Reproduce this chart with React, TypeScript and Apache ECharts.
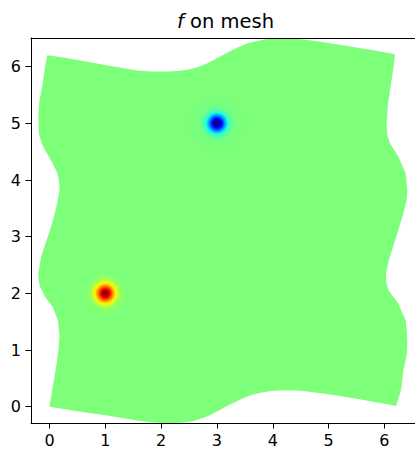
import React, { useEffect, useRef } from "react";
import * as echarts from "echarts";

// Axis extents (equal aspect) and tick positions
const xRange = [-0.331, 6.548];
const yRange = [-0.288, 6.506];
const xTicks = [0, 1, 2, 3, 4, 5, 6];
const yTicks = [0, 1, 2, 3, 4, 5, 6];

// Outline of the deformed mesh, traced edge by edge (counter-clockwise)
const bottomEdge: number[][] = [
  [0, 0], [0.5, -0.08], [1.0, -0.15], [1.3, -0.2], [1.6, -0.25], [1.85, -0.28], [2.1, -0.29],
  [2.35, -0.285], [2.55, -0.26], [2.75, -0.2], [2.9, -0.14], [3.05, -0.06], [3.2, 0.02],
  [3.4, 0.12], [3.6, 0.2], [3.8, 0.25], [4.0, 0.28], [4.2, 0.29], [4.5, 0.28], [5.0, 0.22],
  [5.5, 0.14], [6.0, 0.05], [6.21, 0.01],
];
const rightEdge: number[][] = [
  [6.21, 0.01], [6.3, 0.3], [6.34, 0.65], [6.4, 0.9], [6.41, 1.12], [6.4, 1.35],
  [6.38, 1.53], [6.3, 1.7], [6.25, 1.82], [6.15, 1.95], [6.07, 2.06], [6.03, 2.2],
  [6.03, 2.35], [6.07, 2.55], [6.12, 2.71], [6.18, 2.9], [6.25, 3.12], [6.34, 3.41],
  [6.4, 3.65], [6.41, 3.82], [6.38, 4.12], [6.3, 4.3], [6.25, 4.41], [6.1, 4.65],
  [6.05, 4.8], [6.04, 5.0], [6.06, 5.3], [6.1, 5.59], [6.15, 5.9], [6.19, 6.22],
];
const topEdge: number[][] = [
  [6.19, 6.22], [5.8, 6.29], [5.25, 6.38], [4.8, 6.45], [4.48, 6.49], [4.1, 6.5],
  [3.89, 6.49], [3.7, 6.45], [3.54, 6.41], [3.35, 6.33], [3.19, 6.25], [3.0, 6.15],
  [2.83, 6.06], [2.65, 5.99], [2.5, 5.95], [2.3, 5.925], [2.1, 5.915], [1.85, 5.915],
  [1.6, 5.93], [1.3, 5.975], [1.0, 6.03], [0.6, 6.1], [0.25, 6.16], [-0.04, 6.2],
];
const leftEdge: number[][] = [
  [-0.04, 6.2], [-0.08, 6.0], [-0.12, 5.71], [-0.18, 5.4], [-0.2, 5.12], [-0.19, 4.82],
  [-0.14, 4.65], [-0.08, 4.53], [0.06, 4.29], [0.14, 4.12], [0.17, 4.0], [0.18, 3.82],
  [0.14, 3.6], [0.08, 3.35], [0.02, 3.15], [-0.05, 2.94], [-0.15, 2.65], [-0.2, 2.35],
  [-0.19, 2.2], [-0.17, 2.12], [-0.08, 1.94], [0.06, 1.76], [0.15, 1.53], [0.18, 1.24],
  [0.16, 1.0], [0.13, 0.77], [0.06, 0.35], [0, 0],
];

// Localised bumps of f: centre, peak value and width
const spotX = [1, 3];
const spotY = [2, 5];
const spotValue = [1, -1];
const spotWidth = [0.17, 0.16];

// Colour normalisation
const colorMin = -1;
const colorMax = 1;

// "jet" colormap segment data
const JET_R = [[0, 0], [0.35, 0], [0.66, 1], [0.89, 1], [1, 0.5]];
const JET_G = [[0, 0], [0.125, 0], [0.375, 1], [0.64, 1], [0.91, 0], [1, 0]];
const JET_B = [[0, 0.5], [0.11, 1], [0.34, 1], [0.65, 0], [1, 0]];

function seg(table: number[][], t: number): number {
  for (let i = 1; i < table.length; i++) {
    if (t <= table[i][0]) {
      const [t0, v0] = table[i - 1];
      const [t1, v1] = table[i];
      return v0 + ((t - t0) / (t1 - t0)) * (v1 - v0);
    }
  }
  return table[table.length - 1][1];
}

function jet(v: number): string {
  const t = (v - colorMin) / (colorMax - colorMin);
  const idx = Math.min(255, Math.max(0, Math.floor(t * 256)));
  const tq = idx / 255;
  const r = Math.round(seg(JET_R, tq) * 255);
  const g = Math.round(seg(JET_G, tq) * 255);
  const b = Math.round(seg(JET_B, tq) * 255);
  return `rgb(${r},${g},${b})`;
}

const outline = [
  ...bottomEdge,
  ...rightEdge.slice(1),
  ...topEdge.slice(1),
  ...leftEdge.slice(1, -1),
];

const FONT = "DejaVu Sans";
const TICK_FONT = 16;
const TITLE_FONT = 19.5;

export default function App() {
  const ref = useRef<HTMLDivElement>(null);

  useEffect(() => {
    if (!ref.current) return;
    const chart = echarts.init(ref.current, undefined, { renderer: "svg" });

    const axisCommon = {
      type: "value" as const,
      splitLine: { show: false },
      axisLine: { show: true, onZero: false, lineStyle: { color: "#000", width: 1 } },
      z: 10,
    };

    chart.setOption({
      animation: false,
      backgroundColor: "#fff",
      grid: { left: 31, top: 38, width: 389, height: 385, containLabel: false },
      xAxis: [
        {
          ...axisCommon,
          min: xRange[0],
          max: xRange[1],
          position: "bottom",
          axisTick: { show: true, length: 5.5, customValues: xTicks, lineStyle: { color: "#000", width: 1 } },
          axisLabel: { customValues: xTicks, color: "#000", fontSize: TICK_FONT, fontFamily: FONT, margin: 9 },
        },
        {
          ...axisCommon,
          min: xRange[0],
          max: xRange[1],
          position: "top",
          axisTick: { show: false },
          axisLabel: { show: false },
        },
      ],
      yAxis: [
        {
          ...axisCommon,
          min: yRange[0],
          max: yRange[1],
          position: "left",
          axisTick: { show: true, length: 5.5, customValues: yTicks, lineStyle: { color: "#000", width: 1 } },
          axisLabel: { customValues: yTicks, color: "#000", fontSize: TICK_FONT, fontFamily: FONT, margin: 10 },
        },
        {
          ...axisCommon,
          min: yRange[0],
          max: yRange[1],
          position: "right",
          axisTick: { show: false },
          axisLabel: { show: false },
        },
      ],
      graphic: [
        {
          type: "text",
          x: 225.5,
          y: 21,
          style: {
            text: "{i|f} on mesh",
            fontSize: TITLE_FONT,
            fontFamily: FONT,
            fill: "#000",
            align: "center",
            verticalAlign: "middle",
            rich: { i: { fontStyle: "italic", fontSize: TITLE_FONT, fontFamily: FONT } },
          },
        },
      ],
      series: [
        {
          type: "custom",
          coordinateSystem: "cartesian2d",
          clip: true,
          silent: true,
          z: 1,
          data: [[0, 0]],
          renderItem: (_params: any, api: any) => ({
            type: "polygon",
            shape: { points: outline.map((p) => api.coord(p)) },
            style: { fill: jet(0), stroke: null },
          }),
        },
        {
          type: "custom",
          coordinateSystem: "cartesian2d",
          clip: true,
          silent: true,
          z: 2,
          data: spotX.map((x, i) => [x, spotY[i], spotValue[i], spotWidth[i]]),
          renderItem: (_params: any, api: any) => {
            const c = api.coord([api.value(0), api.value(1)]);
            const amp = api.value(2);
            const w = api.value(3);
            const unit = api.size([1, 1])[0];
            const reach = 3 * w;
            const n = 40;
            const stops = [];
            for (let k = 0; k <= n; k++) {
              const r = (k / n) * reach;
              const f = amp * Math.exp(-(r * r) / (w * w));
              stops.push({ offset: k / n, color: jet(f) });
            }
            return {
              type: "circle",
              shape: { cx: c[0], cy: c[1], r: reach * unit },
              style: { fill: new echarts.graphic.RadialGradient(0.5, 0.5, 0.5, stops) },
            };
          },
        },
      ],
    });

    return () => chart.dispose();
  }, []);

  return (
    <div
      ref={ref}
      style={{ position: "fixed", left: 0, top: 0, width: 415, height: 451, background: "#fff" }}
    />
  );
}
